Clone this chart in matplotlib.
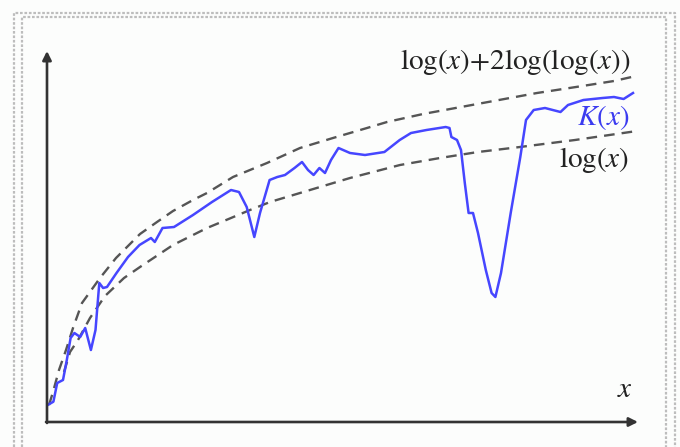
import numpy as np
import matplotlib
matplotlib.use("Agg")
import matplotlib.pyplot as plt
from matplotlib.lines import Line2D

# values (units ~ pixels from the origin of the axes)
k_x = [0.7, 6.4, 10.2, 16, 19.8, 23.6, 27.4, 33.2, 38.2, 43.9, 48.5, 52.3, 56.1, 60,
       69.5, 81, 92.5, 104, 107.8, 115.5, 127, 146, 165, 184, 192, 199.7, 207.3, 213,
       222.6, 230.3, 238, 247.5, 255, 261, 266.6, 272.4, 278, 284, 291.5, 303, 318,
       337.4, 352.7, 364, 379.5, 398.7, 402.5, 404.4, 410, 414, 417.8, 421.6, 426,
       431, 438.8, 444.6, 448.4, 454, 463.7, 473.3, 479, 486.7, 498, 513.5, 521,
       536.4, 555.6, 567, 576.6, 586]
k_y = [17, 20.3, 39, 42, 62, 84, 89, 85, 94, 72, 92, 139, 134, 135,
       149, 165, 177, 184, 180, 194, 195, 207, 220, 232, 230, 215, 185, 209,
       242, 245, 247, 254, 260, 252, 247, 254, 249, 262, 274, 269, 267,
       270, 282, 289, 292, 295, 294, 285, 282, 272, 239, 209, 209,
       189, 152, 129, 125, 149, 209, 265, 302, 312, 314, 310, 317,
       322, 324, 325, 323, 329]

upper_x = [2, 6, 12, 19, 26, 35, 53, 69, 80, 93, 110, 126, 146, 160, 186, 220, 253,
           286, 320, 340, 376, 414, 452, 490, 529, 567, 589]
upper_y = [17, 30, 52, 72, 94, 119, 144, 164, 175, 188, 200, 211, 222, 229, 245, 259,
           274, 284, 294, 300, 308, 315, 322, 329, 335, 341, 346]

lower_x = [17, 23, 31, 43, 58, 77, 93, 108, 126, 146, 160, 184, 203, 223, 253, 303,
           353, 393, 431, 473, 528, 590]
lower_y = [50, 70, 82, 104, 126, 144, 155, 165, 177, 187, 194, 204, 212, 220, 229,
           244, 257, 264, 270, 275, 282, 291]

W, H = 680, 447
bg = '#fcfdfc'
plt.rcParams['mathtext.fontset'] = 'stix'

fig = plt.figure(figsize=(W / 100, H / 100), dpi=100, facecolor=bg)

# dotted frames of the original image
def frame(left, top, right, color='#bdbdbd'):
    xs = [left / W, left / W, right / W, right / W]
    ys = [0, 1 - top / H, 1 - top / H, 0]
    fig.add_artist(Line2D(xs, ys, transform=fig.transFigure, color=color,
                          lw=1.6, linestyle=(0, (1.2, 0.8))))

frame(14, 13, 675)
frame(22, 17, 666)

ax = fig.add_axes([47 / W, 25 / H, 600 / W, 400 / H])
ax.set_xlim(0, 600)
ax.set_ylim(0, 400)
ax.axis('off')

dash = (0, (4.5, 3))
ax.plot(upper_x, upper_y, color='#555555', lw=1.7, linestyle=dash)
ax.plot(lower_x, lower_y, color='#555555', lw=1.7, linestyle=dash)
ax.plot(k_x, k_y, color='#4646ff', lw=1.8, solid_joinstyle='round')

arrow = dict(arrowstyle='-|>', color='#333333', lw=1.9, mutation_scale=13,
             shrinkA=0, shrinkB=0)
ax.annotate('', xy=(591, 0), xytext=(-1, 0), arrowprops=arrow)
ax.annotate('', xy=(0, 371), xytext=(0, -1), arrowprops=arrow)

fs = 21
ax.text(584, 360, r'$\mathrm{log}(x){+}2\mathrm{log}(\mathrm{log}(x))$', ha='right',
        va='center', fontsize=fs, color='#222222')
ax.text(582, 305, r'$K(x)$', ha='right', va='center', fontsize=fs, color='#3b3bf0')
ax.text(582, 262, r'$\mathrm{log}(x)$', ha='right', va='center', fontsize=fs,
        color='#222222')
ax.text(578, 33, r'$x$', ha='center', va='center', fontsize=fs, color='#222222')

fig.savefig('out.png', dpi=100, facecolor=bg)
